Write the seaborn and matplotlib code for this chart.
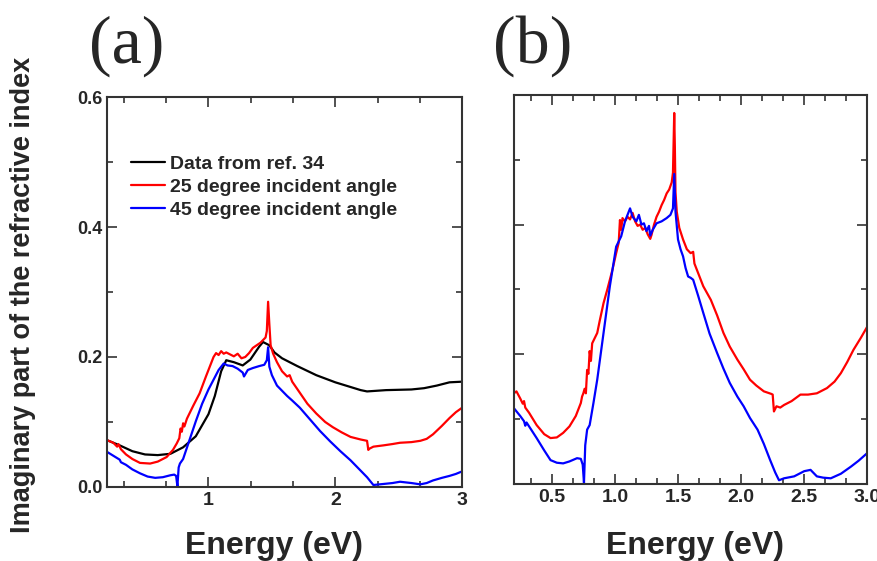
import numpy as np
import pandas as pd
import seaborn as sns
import matplotlib
matplotlib.use('Agg')
import matplotlib.pyplot as plt
from matplotlib.ticker import MultipleLocator, NullFormatter

# panel (a): reference data
e_ref = [0.20, 0.30, 0.40, 0.50, 0.60, 0.70, 0.80, 0.90, 1.00, 1.05,
         1.10, 1.14, 1.20, 1.27, 1.33, 1.40, 1.43, 1.48, 1.52, 1.58,
         1.70, 1.85, 2.00, 2.10, 2.20, 2.25, 2.40, 2.60, 2.70, 2.80,
         2.90, 3.00]
k_ref = [0.072, 0.064, 0.055, 0.050, 0.049, 0.051, 0.061, 0.078, 0.112, 0.140,
         0.178, 0.195, 0.192, 0.187, 0.196, 0.216, 0.223, 0.218, 0.207, 0.198,
         0.186, 0.172, 0.161, 0.155, 0.149, 0.147, 0.149, 0.150, 0.152, 0.156,
         0.161, 0.162]

# panel (a): 25 degree
e_25a = [0.20, 0.25, 0.28, 0.29, 0.31, 0.35, 0.40, 0.46, 0.54, 0.60,
         0.67, 0.72, 0.75, 0.77, 0.78, 0.79, 0.80, 0.81, 0.83, 0.88,
         0.93, 0.98, 1.02, 1.04, 1.06, 1.08, 1.10, 1.12, 1.14, 1.17,
         1.20, 1.23, 1.26, 1.29, 1.32, 1.35, 1.38, 1.41, 1.43, 1.45,
         1.46, 1.47, 1.48, 1.49, 1.51, 1.54, 1.58, 1.62, 1.64, 1.66,
         1.72, 1.78, 1.85, 1.92, 1.98, 2.05, 2.12, 2.20, 2.25, 2.26,
         2.27, 2.30, 2.38, 2.45, 2.51, 2.60, 2.67, 2.72, 2.77, 2.84,
         2.90, 2.95, 3.00]
k_25a = [0.072, 0.068, 0.062, 0.066, 0.058, 0.050, 0.043, 0.037, 0.036, 0.039,
         0.046, 0.057, 0.067, 0.075, 0.090, 0.085, 0.098, 0.093, 0.105, 0.125,
         0.144, 0.170, 0.190, 0.200, 0.206, 0.203, 0.209, 0.205, 0.207, 0.204,
         0.201, 0.205, 0.198, 0.200, 0.206, 0.214, 0.218, 0.222, 0.226, 0.230,
         0.240, 0.285, 0.250, 0.218, 0.205, 0.192, 0.178, 0.170, 0.172, 0.162,
         0.145, 0.128, 0.113, 0.100, 0.092, 0.084, 0.077, 0.073, 0.071, 0.057,
         0.059, 0.062, 0.064, 0.066, 0.068, 0.069, 0.071, 0.074, 0.081, 0.094,
         0.106, 0.115, 0.122]

# panel (a): 45 degree
e_45a = [0.20, 0.25, 0.30, 0.31, 0.35, 0.40, 0.46, 0.52, 0.58, 0.64,
         0.70, 0.73, 0.745, 0.755, 0.765, 0.775, 0.80, 0.85, 0.90, 0.95,
         1.00, 1.04, 1.08, 1.12, 1.15, 1.19, 1.23, 1.27, 1.28, 1.31,
         1.35, 1.40, 1.44, 1.46, 1.47, 1.48, 1.50, 1.54, 1.59, 1.62,
         1.66, 1.72, 1.80, 1.88, 1.96, 2.04, 2.12, 2.20, 2.25, 2.30,
         2.35, 2.45, 2.51, 2.60, 2.67, 2.72, 2.77, 2.84, 2.90, 2.95,
         3.00]
k_45a = [0.054, 0.048, 0.042, 0.038, 0.034, 0.027, 0.021, 0.016, 0.014, 0.015,
         0.018, 0.019, 0.017, 0.001, 0.030, 0.036, 0.043, 0.072, 0.101, 0.128,
         0.150, 0.165, 0.180, 0.190, 0.187, 0.186, 0.182, 0.176, 0.170, 0.180,
         0.183, 0.186, 0.188, 0.195, 0.215, 0.185, 0.172, 0.156, 0.146, 0.140,
         0.133, 0.122, 0.104, 0.086, 0.070, 0.055, 0.041, 0.025, 0.015, 0.003,
         0.004, 0.006, 0.008, 0.006, 0.004, 0.006, 0.010, 0.014, 0.017, 0.020,
         0.024]

# panel (b): 25 degree
e_25b = [0.20, 0.22, 0.25, 0.27, 0.28, 0.29, 0.32, 0.38, 0.44, 0.49,
         0.54, 0.59, 0.64, 0.69, 0.73, 0.74, 0.75, 0.76, 0.77, 0.78,
         0.79, 0.80, 0.81, 0.82, 0.84, 0.86, 0.88, 0.91, 0.94, 0.96,
         0.98, 1.01, 1.03, 1.04, 1.05, 1.06, 1.08, 1.10, 1.12, 1.14,
         1.16, 1.18, 1.20, 1.22, 1.24, 1.26, 1.28, 1.29, 1.31, 1.33,
         1.35, 1.37, 1.39, 1.41, 1.43, 1.45, 1.46, 1.47, 1.475, 1.48,
         1.49, 1.51, 1.54, 1.57, 1.60, 1.62, 1.63, 1.65, 1.70, 1.76,
         1.81, 1.86, 1.91, 1.97, 2.02, 2.07, 2.12, 2.18, 2.24, 2.25,
         2.26, 2.28, 2.31, 2.34, 2.40, 2.47, 2.53, 2.60, 2.68, 2.74,
         2.79, 2.84, 2.89, 2.95, 3.00]
k_25b = [0.140, 0.143, 0.132, 0.124, 0.128, 0.118, 0.110, 0.091, 0.077, 0.071,
         0.072, 0.079, 0.089, 0.105, 0.125, 0.135, 0.140, 0.147, 0.140, 0.176,
         0.170, 0.205, 0.190, 0.217, 0.225, 0.233, 0.252, 0.279, 0.300, 0.315,
         0.330, 0.356, 0.372, 0.407, 0.392, 0.410, 0.405, 0.412, 0.408, 0.418,
         0.405, 0.398, 0.400, 0.392, 0.395, 0.385, 0.378, 0.384, 0.400, 0.412,
         0.420, 0.430, 0.438, 0.448, 0.454, 0.465, 0.480, 0.572, 0.520, 0.450,
         0.420, 0.395, 0.377, 0.362, 0.356, 0.358, 0.340, 0.330, 0.305, 0.284,
         0.260, 0.233, 0.212, 0.192, 0.177, 0.161, 0.152, 0.143, 0.139, 0.138,
         0.112, 0.120, 0.118, 0.122, 0.128, 0.138, 0.138, 0.140, 0.148, 0.158,
         0.171, 0.188, 0.207, 0.226, 0.243]

# panel (b): 45 degree
e_45b = [0.20, 0.25, 0.28, 0.29, 0.30, 0.34, 0.38, 0.44, 0.49, 0.54,
         0.59, 0.64, 0.70, 0.73, 0.745, 0.755, 0.765, 0.78, 0.80, 0.83,
         0.86, 0.91, 0.96, 1.01, 1.05, 1.08, 1.10, 1.12, 1.14, 1.17,
         1.19, 1.21, 1.23, 1.25, 1.27, 1.28, 1.30, 1.33, 1.37, 1.41,
         1.44, 1.46, 1.47, 1.48, 1.50, 1.52, 1.54, 1.56, 1.58, 1.60,
         1.62, 1.66, 1.70, 1.75, 1.81, 1.86, 1.91, 1.97, 2.02, 2.07,
         2.13, 2.18, 2.23, 2.27, 2.30, 2.34, 2.42, 2.50, 2.55, 2.60,
         2.65, 2.71, 2.79, 2.87, 2.93, 3.00]
k_45b = [0.117, 0.105, 0.097, 0.090, 0.095, 0.083, 0.071, 0.052, 0.037, 0.033,
         0.032, 0.035, 0.040, 0.039, 0.030, 0.002, 0.060, 0.084, 0.091, 0.125,
         0.161, 0.233, 0.305, 0.366, 0.382, 0.405, 0.415, 0.425, 0.412, 0.405,
         0.415, 0.400, 0.402, 0.390, 0.398, 0.383, 0.392, 0.402, 0.405, 0.410,
         0.415, 0.425, 0.478, 0.420, 0.377, 0.362, 0.351, 0.333, 0.320, 0.318,
         0.315, 0.290, 0.264, 0.232, 0.202, 0.178, 0.156, 0.135, 0.120, 0.102,
         0.084, 0.062, 0.037, 0.018, 0.006, 0.009, 0.012, 0.020, 0.022, 0.012,
         0.010, 0.009, 0.016, 0.027, 0.036, 0.048]

labels = ['Data from ref. 34', '25 degree incident angle', '45 degree incident angle']
colors = ['black', '#ff0000', '#0000ff']

sns.set_style('ticks')
plt.rcParams['font.family'] = ['Liberation Sans', 'DejaVu Sans']
spine_col = '#333333'

fig = plt.figure(figsize=(8.77, 5.61), dpi=100)
ax_a = fig.add_axes([0.122, 0.132, 0.405, 0.695])
ax_b = fig.add_axes([0.586, 0.137, 0.403, 0.694])

series_a = [(e_ref, k_ref), (e_25a, k_25a), (e_45a, k_45a)]
for (e, k), lab, col in zip(series_a, labels, colors):
    sns.lineplot(x=e, y=k, ax=ax_a, color=col, label=lab, linewidth=1.6,
                 sort=False, estimator=None)

series_b = [(e_25b, k_25b), (e_45b, k_45b)]
for (e, k), col in zip(series_b, colors[1:]):
    sns.lineplot(x=e, y=k, ax=ax_b, color=col, linewidth=1.6,
                 sort=False, estimator=None)

for ax in (ax_a, ax_b):
    ax.set_xlim(0.2, 3.0)
    ax.set_ylim(0, 0.6)
    ax.tick_params(which='both', direction='in', top=True, right=True,
                   color=spine_col, width=1.2)
    ax.tick_params(which='major', length=7)
    ax.tick_params(which='minor', length=4)
    ax.yaxis.set_major_locator(MultipleLocator(0.2))
    ax.yaxis.set_minor_locator(MultipleLocator(0.1))
    for s in ax.spines.values():
        s.set_color(spine_col)
        s.set_linewidth(1.5)
    ax.set_xlabel('')
    ax.set_ylabel('')

ax_a.xaxis.set_minor_locator(MultipleLocator(1 / 3))
ax_a.set_xticks([1, 2, 3])
ax_a.set_xticklabels(['1', '2', '3'])
ax_a.set_yticks([0.0, 0.2, 0.4, 0.6])
ax_a.set_yticklabels(['0.0', '0.2', '0.4', '0.6'])

ax_b.set_xticks([0.5, 1.0, 1.5, 2.0, 2.5, 3.0])
ax_b.set_xticklabels(['0.5', '1.0', '1.5', '2.0', '2.5', '3.0'])
ax_b.xaxis.set_minor_locator(MultipleLocator(1 / 6))
ax_b.yaxis.set_major_formatter(NullFormatter())

for lab in ax_a.get_xticklabels() + ax_b.get_xticklabels():
    lab.set_fontsize(14)
    lab.set_fontweight('bold')
for lab in ax_a.get_yticklabels():
    lab.set_fontsize(13)
    lab.set_fontweight('bold')

leg = ax_a.legend(loc='upper left', bbox_to_anchor=(0.018, 0.895), frameon=False,
                  handlelength=1.75, handletextpad=0.25, labelspacing=0.28,
                  prop={'weight': 'bold', 'size': 14})

# x labels at a common baseline, near the lower edge as in the original
for xc in (0.312, 0.792):
    fig.text(xc, 0.012, 'Energy (eV)', ha='center', va='baseline',
             fontsize=23, fontweight='bold')

fig.text(0.026, 0.474, 'Imaginary part of the refractive index', rotation=90,
         ha='center', va='center', fontsize=19.5, fontweight='bold')
fig.text(0.144, 0.918, '(a)', ha='center', va='center', fontsize=49,
         family=['Liberation Serif', 'DejaVu Serif'])
fig.text(0.607, 0.918, '(b)', ha='center', va='center', fontsize=49,
         family=['Liberation Serif', 'DejaVu Serif'])

fig.savefig('out.png', dpi=100)
